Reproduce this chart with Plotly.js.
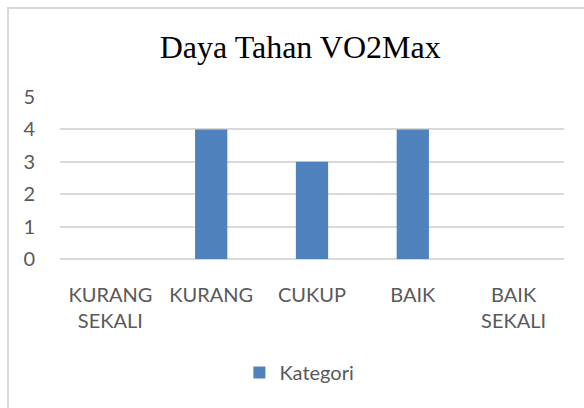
<!DOCTYPE html>
<html>
<head>
<meta charset="utf-8">
<script src="https://cdn.plot.ly/plotly-3.0.1.min.js"></script>
<style>
  html, body { margin: 0; padding: 0; background: #fff; }
  #frame { position: absolute; left: 7px; top: 7px; width: 600px; height: 420px;
           border-top: 2px solid #d9d9d9; border-left: 2px solid #d9d9d9; }
  #chart { position: absolute; left: 0; top: 0; width: 584px; height: 408px; }
</style>
</head>
<body>
<div id="frame"></div>
<div id="chart"></div>
<script>
const categories = ["KURANG<br>SEKALI", "KURANG", "CUKUP", "BAIK", "BAIK<br>SEKALI"];
const values = [0, 4, 3, 4, 0];
const seriesName = "Kategori";
const chartTitle = "Daya Tahan VO2Max";
const yTicks = [0, 1, 2, 3, 4, 5];

const trace = {
  type: "bar",
  x: categories,
  y: values,
  name: seriesName,
  marker: { color: "#4f81bd" },
  showlegend: true
};

const layout = {
  width: 584, height: 408,
  paper_bgcolor: "rgba(0,0,0,0)",
  plot_bgcolor: "rgba(0,0,0,0)",
  margin: { l: 60, r: 20, t: 97, b: 149 },
  bargap: 0.68,
  title: {
    text: chartTitle,
    font: { family: "Liberation Serif, Times New Roman, serif", size: 32, color: "#000" },
    x: 0.514, xanchor: "center", xref: "container",
    y: 0.885, yref: "container", yanchor: "middle"
  },
  font: { family: "Lato, Calibri, sans-serif", size: 20, color: "#595959" },
  xaxis: {
    type: "category",
    showgrid: false, zeroline: false, showline: false,
    ticks: "outside", ticklen: 18, tickcolor: "rgba(0,0,0,0)",
    tickfont: { size: 20, color: "#595959" },
    fixedrange: true
  },
  yaxis: {
    range: [0, 5],
    tickvals: yTicks,
    showgrid: true, gridcolor: "#d9d9d9", gridwidth: 2,
    zeroline: true, zerolinecolor: "#d9d9d9", zerolinewidth: 2,
    showline: false,
    ticks: "outside", ticklen: 20, tickcolor: "rgba(0,0,0,0)",
    tickfont: { size: 20, color: "#595959" },
    fixedrange: true
  },
  legend: {
    orientation: "h",
    x: 0.475, xanchor: "center",
    y: -0.70, yanchor: "middle",
    font: { size: 20, color: "#595959" },
    itemwidth: 30
  }
};

Plotly.newPlot("chart", [trace], layout, { displayModeBar: false, staticPlot: true });
</script>
</body>
</html>
